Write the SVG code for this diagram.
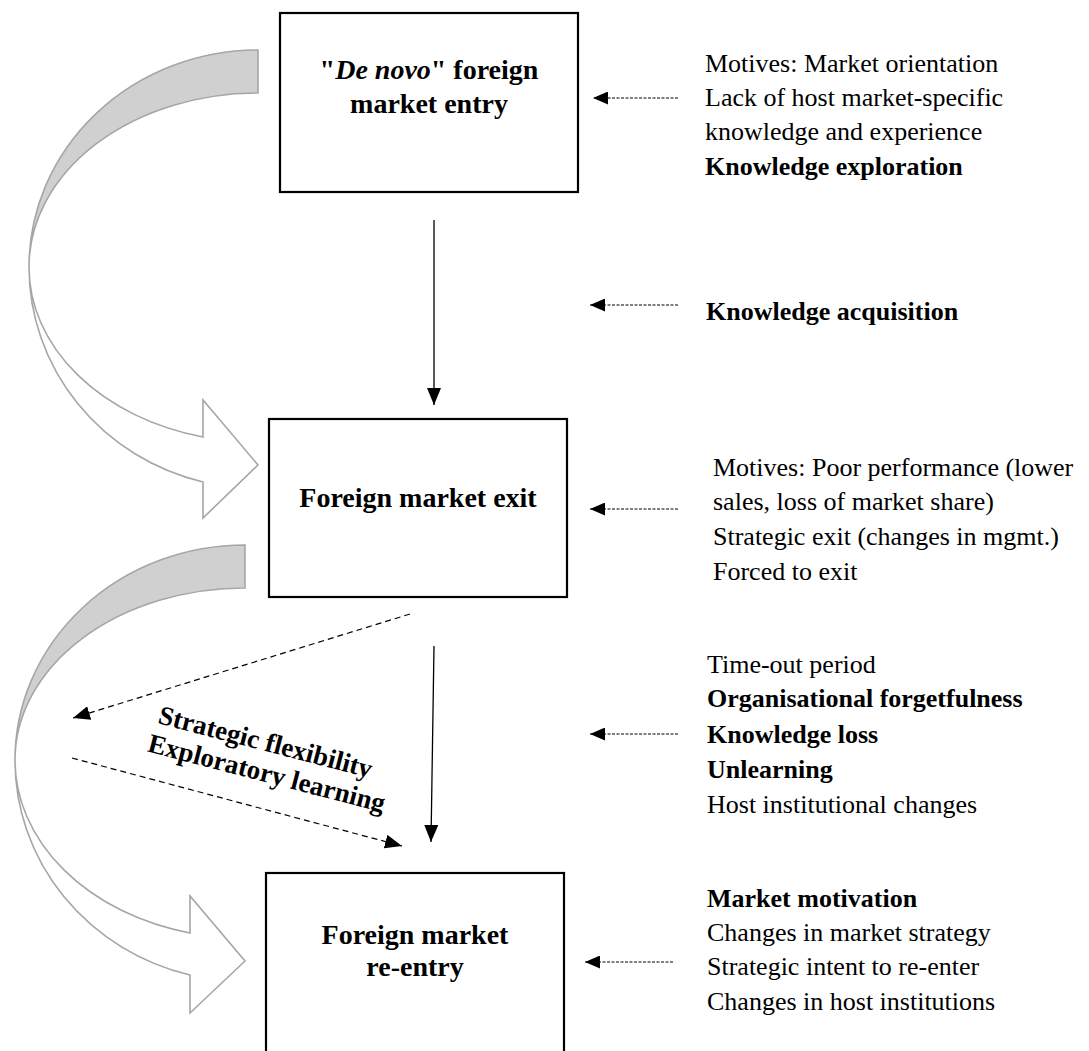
<svg xmlns="http://www.w3.org/2000/svg" width="1089" height="1051" viewBox="0 0 1089 1051">
<defs>
<style>
.box{fill:#fff;stroke:#000;stroke-width:2.2}
.bt{font-family:"Liberation Serif","Times New Roman",serif;font-size:28px;font-weight:bold;fill:#000;text-anchor:middle}
.rt{font-family:"Liberation Serif","Times New Roman",serif;font-size:26px;fill:#000}
.b{font-weight:bold}
.solid{stroke:#000;stroke-width:1.3;fill:none}
.fine{stroke:#000;stroke-width:1;stroke-dasharray:3 1.5;fill:none}
.dash{stroke:#000;stroke-width:1.2;stroke-dasharray:6 4;fill:none}
.cg{fill:#d0d0d0;stroke:#a6a6a6;stroke-width:1.6}
.cw{fill:#fff;stroke:#a6a6a6;stroke-width:1.6}
.rot{font-family:"Liberation Serif","Times New Roman",serif;font-size:27px;font-weight:bold;fill:#000}
</style>
<marker id="ahb" viewBox="0 0 10 10" refX="10" refY="5" markerWidth="15" markerHeight="13" markerUnits="userSpaceOnUse" orient="auto" preserveAspectRatio="none">
<path d="M0,0 L10,5 L0,10 Z" fill="#000"/>
</marker>
<marker id="ahv" viewBox="0 0 10 10" refX="10" refY="5" markerWidth="17" markerHeight="14" markerUnits="userSpaceOnUse" orient="auto" preserveAspectRatio="none">
<path d="M0,0 L10,5 L0,10 Z" fill="#000"/>
</marker>
</defs>

<g id="curved-arrows">
<g id="curve1">
<path class="cw" d="M29,267 A229,221.5 0 0 0 203,482 L203,518 L258,465 L203,400 L203,437 A229,175 0 0 1 29,267 Z"/>
<path class="cg" d="M258,50 A229,217 0 0 0 29,267 A229,174 0 0 1 258,93 Z"/>
</g>
<g id="curve2">
<path class="cw" d="M15,760 A230,221 0 0 0 190,975 L190,1013 L245,961 L190,896 L190,933 A230,178 0 0 1 15,760 Z"/>
<path class="cg" d="M245,545 A230,215 0 0 0 15,760 A230,172 0 0 1 245,588 Z"/>
</g>
</g>

<g id="node-entry">
<rect class="box" x="280" y="13" width="298" height="179"/>
<text class="bt" x="429" y="79">"<tspan font-style="italic">De novo</tspan>" foreign</text>
<text class="bt" x="429" y="113">market entry</text>
</g>

<g id="node-exit">
<rect class="box" x="269" y="419" width="298" height="178"/>
<text class="bt" x="418" y="507">Foreign market exit</text>
</g>

<g id="node-reentry">
<rect class="box" x="266" y="873" width="298" height="200"/>
<text class="bt" x="415" y="944">Foreign market</text>
<text class="bt" x="415" y="976">re-entry</text>
</g>

<g id="connectors">
<line class="solid" x1="434" y1="220" x2="434" y2="405" marker-end="url(#ahv)"/>
<line class="solid" x1="434" y1="646" x2="431" y2="842" marker-end="url(#ahv)"/>
<line class="dash" x1="410" y1="614" x2="73" y2="718" marker-end="url(#ahv)"/>
<line class="dash" x1="72" y1="758" x2="402" y2="846" marker-end="url(#ahv)"/>
<line class="fine" x1="678" y1="98" x2="593" y2="98" marker-end="url(#ahb)"/>
<line class="fine" x1="678" y1="305" x2="590" y2="305" marker-end="url(#ahb)"/>
<line class="fine" x1="678" y1="509" x2="590" y2="509" marker-end="url(#ahb)"/>
<line class="fine" x1="678" y1="734" x2="590" y2="734" marker-end="url(#ahb)"/>
<line class="fine" x1="673" y1="962" x2="585" y2="962" marker-end="url(#ahb)"/>
</g>

<g id="label-learning" transform="translate(157,723) rotate(14.5)">
<text class="rot" x="0" y="0">Strategic flexibility</text>
<text class="rot" x="-3" y="30">Exploratory learning</text>
</g>

<g id="notes-entry">
<text class="rt" x="705" y="72">Motives: Market orientation</text>
<text class="rt" x="705" y="106">Lack of host market-specific</text>
<text class="rt" x="705" y="140">knowledge and experience</text>
<text class="rt b" x="705" y="175">Knowledge exploration</text>
</g>

<g id="notes-acquisition">
<text class="rt b" x="706" y="320">Knowledge acquisition</text>
</g>

<g id="notes-exit">
<text class="rt" x="713" y="476">Motives: Poor performance (lower</text>
<text class="rt" x="713" y="510">sales, loss of market share)</text>
<text class="rt" x="713" y="545">Strategic exit (changes in mgmt.)</text>
<text class="rt" x="713" y="580">Forced to exit</text>
</g>

<g id="notes-timeout">
<text class="rt" x="707" y="673">Time-out period</text>
<text class="rt b" x="707" y="707">Organisational forgetfulness</text>
<text class="rt b" x="707" y="743">Knowledge loss</text>
<text class="rt b" x="707" y="778">Unlearning</text>
<text class="rt" x="707" y="813">Host institutional changes</text>
</g>

<g id="notes-reentry">
<text class="rt b" x="707" y="907">Market motivation</text>
<text class="rt" x="707" y="941">Changes in market strategy</text>
<text class="rt" x="707" y="975">Strategic intent to re-enter</text>
<text class="rt" x="707" y="1010">Changes in host institutions</text>
</g>
</svg>
